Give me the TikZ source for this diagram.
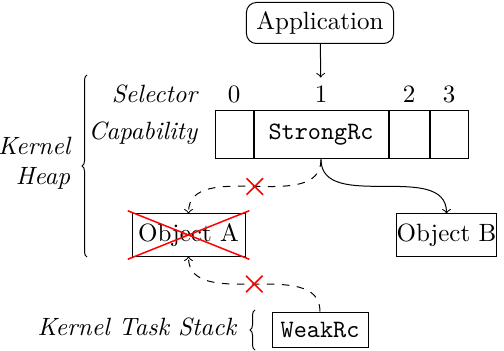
\documentclass[tikz,border=0pt]{standalone}
\usepackage{tikz}
\usetikzlibrary{arrows,positioning,calc,shapes.misc,decorations.pathreplacing}
\tikzstyle{cell}=[draw,minimum height=19.2pt,inner sep=0pt]
\tikzstyle{obj}=[draw,minimum height=16.8pt,inner sep=0pt]
\tikzstyle{app}=[draw,rounded corners=4pt,minimum height=16.4pt,inner xsep=4pt]
\tikzstyle{lbl}=[font=\itshape]
\tikzstyle{cut}=[draw=red,solid,cross out,semithick,inner sep=0pt,minimum size=6pt]
\tikzstyle{brace}=[decorate,decoration={brace,amplitude=2pt}]

\begin{document}
\begin{tikzpicture}[x=0.4pt,y=-0.4pt,>=to]
\useasboundingbox (0,0) rectangle (504,351);
\node [app] (app) at (320,23) {Application};
% capability table
\node [cell,minimum width=15.2pt] (c0) at (234,135) {};
\node [cell,minimum width=53.6pt,right=0pt of c0] (c1) {\texttt{StrongRc}};
\node [cell,minimum width=16pt,right=0pt of c1] (c2) {};
\node [cell,minimum width=15.2pt,right=0pt of c2] (c3) {};
\node [anchor=base] (s0) at (c0 |- 0,103) {0};
\node [anchor=base] (s1) at (c1 |- 0,103) {1};
\node [anchor=base] (s2) at (c2 |- 0,103) {2};
\node [anchor=base] (s3) at (c3 |- 0,103) {3};
\node [lbl,anchor=base east] (sel) at (206,103) {Selector};
\node [lbl,anchor=base east] (cap) at (206,140) {Capability};
% objects
\node [obj,minimum width=45.2pt] (objA) at (188.5,235) {Object A};
\node [obj,minimum width=39.6pt] (objB) at (446.5,235) {Object B};
\node [cut,minimum width=48pt,minimum height=18.8pt] (dead) at (objA) {};
\node [obj,minimum width=38.4pt,minimum height=14pt] (weak) at (320,329.5) {\texttt{WeakRc}};
% braces
\draw [brace] (87,257) -- (87,75);
\node [lbl,anchor=east,align=right] (heap) at (79,163) {Kernel\\Heap};
\draw [brace] (255,350) -- (255,310);
\node [lbl,anchor=base east] (stack) at (245,335) {Kernel Task Stack};
% arrows
\draw [->] (app) -- (s1);
\draw [->] (c1.south) to[out=-90,in=90] (objB.north);
\draw [->,dashed] (c1.south) to[out=-90,in=90] node [cut] (x1) {} (objA.north);
\draw [->,dashed] (weak.north) to[out=90,in=-90] node [cut] (x2) {} (objA.south);
\end{tikzpicture}
\end{document}
